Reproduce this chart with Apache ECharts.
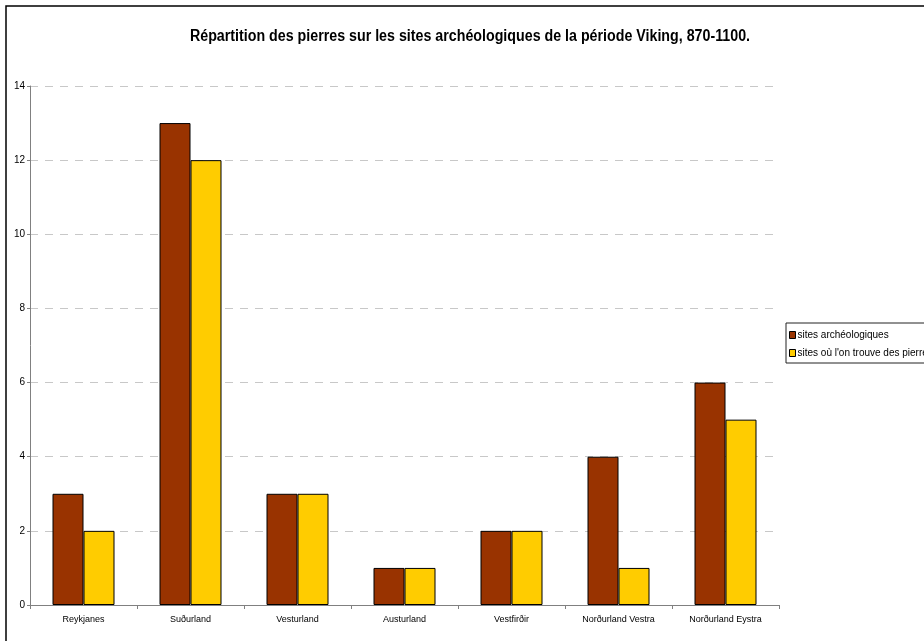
<!DOCTYPE html>
<html>
<head>
<meta charset="utf-8">
<script src="https://cdn.jsdelivr.net/npm/echarts@6/dist/echarts.min.js"></script>
<style>
  html, body { margin: 0; padding: 0; background: #fff; }
  #chart { width: 924px; height: 641px; }
</style>
</head>
<body>
<div id="chart"></div>
<script>
// régions
const regions = ['Reykjanes', 'Suðurland', 'Vesturland', 'Austurland', 'Vestfirðir', 'Norðurland Vestra', 'Norðurland Eystra']
// séries
const sitesArcheo = [3, 13, 3, 1, 2, 4, 6]
const sitesPierres = [2, 12, 3, 1, 2, 1, 5]
const seriesNames = ['sites archéologiques', "sites où l'on trouve des pierres"]
const yTicks = { min: 0, max: 14, interval: 2 }

const font = 'Liberation Sans, Arial, sans-serif'

const chart = echarts.init(document.getElementById('chart'))

const option = {
  animation: false,
  graphic: [
    // cadre extérieur
    {
      type: 'rect',
      shape: { x: 6, y: 6, width: 960, height: 700 },
      style: { fill: 'none', stroke: '#000', lineWidth: 1.5 },
      silent: true
    },
    // titre (un peu condensé comme l'original)
    {
      type: 'text',
      x: 470,
      y: 37,
      scaleX: 0.89,
      style: {
        text: 'Répartition des pierres sur les sites archéologiques de la période Viking, 870-1100.',
        font: 'bold 16px ' + font,
        fill: '#000',
        textAlign: 'center',
        textVerticalAlign: 'middle'
      },
      silent: true
    }
  ],
  legend: {
    orient: 'vertical',
    left: 786,
    top: 323,
    data: seriesNames,
    icon: 'rect',
    itemWidth: 6,
    itemHeight: 7,
    itemGap: 8,
    padding: [7, 4, 5, 3],
    borderColor: '#222',
    borderWidth: 1,
    textStyle: { fontFamily: font, fontSize: 10, color: '#000', padding: [0, 0, 0, -3] },
    itemStyle: { borderColor: '#000', borderWidth: 1 }
  },
  grid: {
    left: 30,
    right: 145,
    top: 86,
    bottom: 36
  },
  xAxis: {
    type: 'category',
    data: regions,
    axisLine: { lineStyle: { color: '#808080', width: 1 } },
    axisTick: { show: true, alignWithLabel: false, length: 4, lineStyle: { color: '#808080' } },
    axisLabel: { fontFamily: font, fontSize: 9, color: '#000', margin: 10, interval: 0 }
  },
  yAxis: {
    type: 'value',
    min: yTicks.min,
    max: yTicks.max,
    interval: yTicks.interval,
    axisLine: { show: true, lineStyle: { color: '#808080', width: 1 } },
    axisTick: { show: true, length: 3, lineStyle: { color: '#808080' } },
    axisLabel: { fontFamily: font, fontSize: 10, color: '#000', margin: 5 },
    splitLine: { show: true, lineStyle: { color: '#c8c8c8', type: [8, 7], width: 1 } }
  },
  series: [
    {
      name: seriesNames[0],
      type: 'bar',
      data: sitesArcheo,
      barWidth: 31,
      barGap: '0%',
      itemStyle: { color: '#993300', borderColor: '#000', borderWidth: 1 }
    },
    {
      name: seriesNames[1],
      type: 'bar',
      data: sitesPierres,
      barWidth: 31,
      barGap: '0%',
      itemStyle: { color: '#ffcc00', borderColor: '#000', borderWidth: 1 }
    }
  ]
}

chart.setOption(option)
</script>
</body>
</html>
